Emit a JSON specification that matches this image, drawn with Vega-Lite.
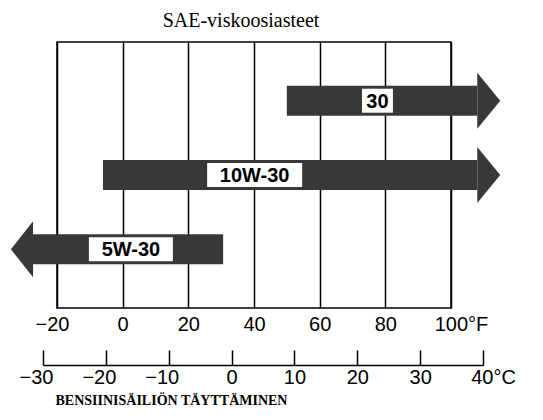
{
  "$schema": "https://vega.github.io/schema/vega-lite/v6.json",
  "width": 394,
  "height": 266,
  "autosize": {"type": "none"},
  "padding": {"left": 57, "top": 42, "right": 92, "bottom": 112},
  "background": "white",
  "config": {
    "view": {"stroke": "black", "strokeWidth": 1.5},
    "font": "Liberation Sans"
  },
  "title": {
    "text": "SAE-viskoosiasteet",
    "font": "Liberation Serif",
    "fontSize": 20,
    "fontWeight": "normal",
    "color": "black",
    "anchor": "middle",
    "baseline": "alphabetic",
    "offset": 15,
    "dx": -13,
    "dy": 20
  },
  "data": {
    "values": [
      {"grade": "30", "from": 50, "to": 108, "dir": "right", "head": 108, "labelAt": 77.6},
      {"grade": "10W-30", "from": -6, "to": 108, "dir": "right", "head": 108, "labelAt": 40.2},
      {"grade": "5W-30", "from": -27.3, "to": 30.6, "dir": "left", "head": -27.3, "labelAt": 2.5}
    ]
  },
  "resolve": {"scale": {"x": "independent"}, "axis": {"x": "independent"}},
  "layer": [
    {
      "resolve": {"scale": {"shape": "independent"}},
      "layer": [
        {
          "mark": {"type": "bar", "size": 30, "fill": "#383838", "clip": false},
          "encoding": {
            "x": {
              "field": "from", "type": "quantitative",
              "scale": {"domain": [-20, 100], "nice": false, "zero": false},
              "axis": {
                "orient": "bottom",
                "values": [-20, 0, 20, 40, 60, 80, 100],
                "grid": true,
                "gridColor": "black",
                "gridWidth": 1.5,
                "gridOpacity": 1,
                "ticks": false,
                "domain": false,
                "labelFlush": false,
                "labelFont": "Liberation Sans",
                "labelFontSize": 20,
                "labelColor": "black",
                "labelPadding": 6,
                "labelExpr": "datum.value == 100 ? '100°F' : datum.label",
                "labelOffset": {"condition": [{"test": "datum.value == 100", "value": 10}, {"test": "datum.value < 0", "value": -5}], "value": 0},
                "title": null
              }
            },
            "x2": {"field": "to"},
            "y": {
              "field": "grade", "type": "nominal",
              "scale": {"type": "point", "domain": ["30", "10W-30", "5W-30"], "padding": 0.79},
              "axis": null
            }
          }
        },
        {
          "mark": {"type": "point", "filled": true, "fill": "#383838", "opacity": 1, "size": 3136, "strokeWidth": 0, "clip": false},
          "encoding": {
            "x": {"field": "head", "type": "quantitative"},
            "y": {"field": "grade", "type": "nominal"},
            "shape": {
              "field": "dir", "type": "nominal",
              "scale": {"domain": ["right", "left"], "range": ["M0,-1L0.82,0L0,1Z", "M0,-1L-0.79,0L0,1Z"]},
              "legend": null
            }
          }
        },
        {
          "mark": {"type": "point", "filled": true, "fill": "white", "opacity": 1, "size": 576, "strokeWidth": 0, "clip": false},
          "encoding": {
            "x": {"field": "labelAt", "type": "quantitative"},
            "y": {"field": "grade", "type": "nominal"},
            "shape": {
              "field": "grade", "type": "nominal",
              "scale": {"domain": ["30", "10W-30", "5W-30"], "range": ["M-1.29,-1L1.29,-1L1.29,1L-1.29,1Z", "M-3.96,-1L3.96,-1L3.96,1L-3.96,1Z", "M-3.5,-1L3.5,-1L3.5,1L-3.5,1Z"]},
              "legend": null
            }
          }
        },
        {
          "mark": {"type": "text", "font": "Liberation Sans", "fontWeight": "bold", "fontSize": 20, "color": "black", "baseline": "middle", "align": "center", "dy": 1},
          "encoding": {
            "x": {"field": "labelAt", "type": "quantitative"},
            "y": {"field": "grade", "type": "nominal"},
            "text": {"field": "grade"}
          }
        }
      ]
    },
    {
      "data": {"values": [{"c": -30}, {"c": 40}]},
      "mark": {"type": "point", "opacity": 0},
      "encoding": {
        "x": {
          "field": "c", "type": "quantitative",
          "scale": {"domain": [-30, 40], "range": [-14, 426], "nice": false, "zero": false},
          "axis": {
            "orient": "bottom",
            "offset": 57,
            "values": [-30, -20, -10, 0, 10, 20, 30, 40],
            "grid": false,
            "domainColor": "black",
            "domainWidth": 1.5,
            "tickColor": "black",
            "tickWidth": 1.5,
            "tickSize": -15,
            "labelFlush": false,
            "labelFont": "Liberation Sans",
            "labelFontSize": 20,
            "labelColor": "black",
            "labelPadding": 17,
            "labelExpr": "datum.value == 40 ? '40°C' : datum.label",
            "labelOffset": {"condition": [{"test": "datum.value == 40", "value": 10}, {"test": "datum.value < 0", "value": -7}], "value": 0},
            "title": "BENSIINISÄILIÖN TÄYTTÄMINEN",
            "titleFont": "Liberation Serif",
            "titleFontWeight": "bold",
            "titleFontSize": 14,
            "titleColor": "black",
            "titleAlign": "left",
            "titleBaseline": "top",
            "titleX": -2,
            "titleY": 28
          }
        }
      }
    }
  ]
}
